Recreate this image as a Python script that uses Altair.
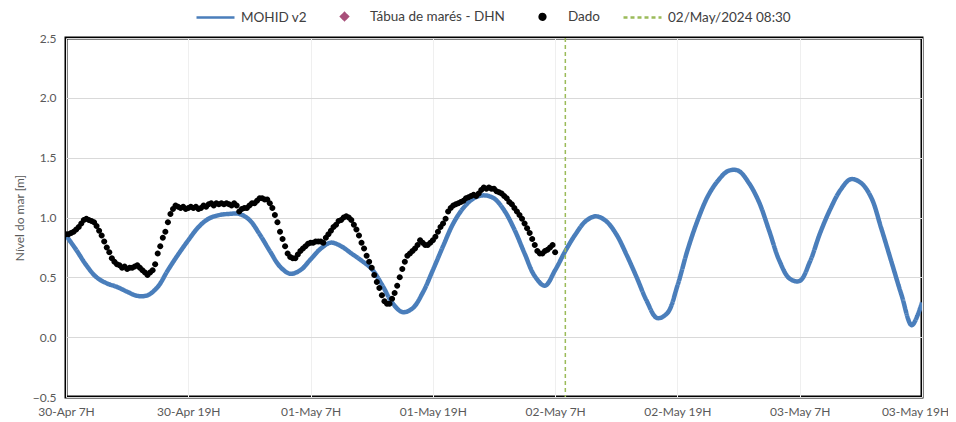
import altair as alt
import pandas as pd

# ---- axis ticks (hours since 30-Apr 07:00) ----
tick_hours = [0, 12, 24, 36, 48, 60, 72, 84]
tick_labels = ["30-Apr 7H", "30-Apr 19H", "01-May 7H", "01-May 19H",
               "02-May 7H", "02-May 19H", "03-May 7H", "03-May 19H"]
y_ticks = [-0.5, 0.0, 0.5, 1.0, 1.5, 2.0, 2.5]

# ---- series ----
series_names = ["MOHID v2", "Tábua de marés - DHN", "Dado", "02/May/2024 08:30"]
series_colors = ["#4A7EBB", "#A8507A", "#000000", "#9BBB59"]

# MOHID v2 model, hourly
mohid_hours = list(range(85))
mohid_level = [
    0.85, 0.73, 0.60, 0.50, 0.45, 0.42, 0.38, 0.345, 0.35, 0.42,
    0.56, 0.69, 0.81, 0.92, 0.99, 1.02, 1.03, 1.03, 0.98, 0.86,
    0.72, 0.59, 0.53, 0.56, 0.65, 0.74, 0.79, 0.76, 0.70, 0.64,
    0.57, 0.44, 0.29, 0.21, 0.24, 0.37, 0.56, 0.76, 0.95, 1.08,
    1.16, 1.185, 1.16, 1.06, 0.90, 0.70, 0.51, 0.43, 0.56, 0.72,
    0.86, 0.97, 1.01, 0.97, 0.86, 0.69, 0.50, 0.30, 0.16, 0.20,
    0.43, 0.73, 0.98, 1.18, 1.31, 1.39, 1.39, 1.29, 1.13, 0.89,
    0.64, 0.49, 0.47, 0.63, 0.87, 1.07, 1.23, 1.32, 1.29, 1.17,
    0.91, 0.63, 0.35, 0.10, 0.29,
]

# Observed data ("Dado"), every 15 minutes
dado_level = [
    0.86, 0.86, 0.87, 0.88,
    0.90, 0.92, 0.95, 0.98,
    0.99, 0.98, 0.97, 0.96,
    0.93, 0.89, 0.85, 0.80,
    0.75, 0.71, 0.66, 0.63,
    0.61, 0.60, 0.58, 0.59,
    0.57, 0.58, 0.58, 0.59,
    0.60, 0.58, 0.56, 0.54,
    0.52, 0.54, 0.56, 0.61,
    0.70, 0.76, 0.83, 0.88,
    0.96, 1.03, 1.07, 1.10,
    1.09, 1.08, 1.09, 1.07,
    1.08, 1.09, 1.08, 1.09,
    1.07, 1.08, 1.10, 1.09,
    1.11, 1.12, 1.10, 1.12,
    1.11, 1.12, 1.11, 1.12,
    1.11, 1.10, 1.12, 1.10,
    1.05, 1.07, 1.08, 1.08,
    1.10, 1.12, 1.12, 1.14,
    1.16, 1.16, 1.15, 1.15,
    1.12, 1.08, 1.02, 0.96,
    0.88, 0.82, 0.76, 0.70,
    0.67, 0.66, 0.66, 0.69,
    0.72, 0.74, 0.76, 0.78,
    0.79, 0.79, 0.80, 0.80,
    0.80, 0.79, 0.83, 0.86,
    0.89, 0.92, 0.94, 0.97,
    0.98, 1.00, 1.01, 1.00,
    0.98, 0.94, 0.90, 0.85,
    0.79, 0.74, 0.68, 0.63,
    0.58, 0.52, 0.46, 0.41,
    0.35, 0.30, 0.28, 0.28,
    0.32, 0.37, 0.43, 0.50,
    0.57, 0.63, 0.68, 0.70,
    0.72, 0.74, 0.77, 0.81,
    0.79, 0.77, 0.77, 0.79,
    0.81, 0.84, 0.88, 0.92,
    0.95, 0.99, 1.05, 1.08,
    1.10, 1.11, 1.12, 1.13,
    1.14, 1.16, 1.17, 1.18,
    1.19, 1.18, 1.20, 1.23,
    1.25, 1.24, 1.25, 1.24,
    1.24, 1.22, 1.21, 1.20,
    1.18, 1.16, 1.13, 1.11,
    1.08, 1.05, 1.02, 0.99,
    0.95, 0.91, 0.87, 0.82,
    0.77, 0.72, 0.70, 0.70,
    0.72, 0.73, 0.75, 0.77,
    0.71,
]
dado_hours = [i * 0.25 for i in range(len(dado_level))]

# forecast start marker
marker_hours = [49.0]

# ---- tables ----
mohid_df = pd.DataFrame({"h": mohid_hours, "v": mohid_level, "series": series_names[0]})
dado_df = pd.DataFrame({"h": dado_hours, "v": dado_level, "series": series_names[2]})
marker_df = pd.DataFrame({"h": marker_hours, "series": series_names[3]})

FONT = "Lato"
GRAY = "#595959"
label_array = "[" + ",".join("'%s'" % t for t in tick_labels) + "]"

x_enc = alt.X("h:Q",
              scale=alt.Scale(domain=[tick_hours[0], tick_hours[-1]], nice=False, zero=False),
              axis=alt.Axis(values=tick_hours, title=None,
                            labelExpr=label_array + "[round(datum.value/12)]",
                            labelFlush=False, labelOverlap=False,
                            labelOffset={"condition": {"test": "datum.value == %d" % tick_hours[-1],
                                                       "value": -7}, "value": 0},
                            gridColor="#EFEFEF", labelPadding=9, ticks=False, domain=False,
                            labelFont=FONT, labelFontSize=12, labelColor=GRAY))
y_enc = alt.Y("v:Q",
              scale=alt.Scale(domain=[y_ticks[0], y_ticks[-1]], nice=False, zero=False),
              axis=alt.Axis(values=y_ticks, format=".1f", title="Nível do mar [m]",
                            gridColor="#D9D9D9", labelPadding=10, titlePadding=6,
                            ticks=False, domain=False,
                            labelFont=FONT, labelFontSize=12, labelColor=GRAY,
                            titleFont=FONT, titleFontSize=12, titleColor=GRAY,
                            titleFontWeight=400))

legend = alt.Legend(title=None, orient="none", direction="horizontal",
                    legendX=129, legendY=-42,
                    labelFont=FONT, labelFontSize=13.5, labelColor="#404040",
                    symbolStrokeWidth=2.5, symbolSize=1444, columnPadding=17, labelOffset=5)

# custom symbol paths (unit coordinates, scaled by the symbol size)
LINE_SYM = "M-1,0H1"
DIAMOND_SYM = "M0,-0.18L0.18,0L0,0.18L-0.18,0Z"
DOT_SYM = "M0.15,0A0.15,0.15,0,1,1,-0.15,0A0.15,0.15,0,1,1,0.15,0Z"

color_enc = alt.Color("series:N", scale=alt.Scale(domain=series_names, range=series_colors),
                      legend=legend)
shape_enc = alt.Shape("series:N", scale=alt.Scale(domain=series_names,
                      range=[LINE_SYM, DIAMOND_SYM, DOT_SYM, LINE_SYM]), legend=legend)
dash_enc = alt.StrokeDash("series:N", scale=alt.Scale(domain=series_names,
                          range=[[1, 0], [1, 0], [1, 0], [4, 3]]), legend=legend)

line = alt.Chart(mohid_df).mark_line(strokeWidth=4.5, interpolate="catmull-rom", clip=True).encode(
    x=x_enc, y=y_enc, color=color_enc, strokeDash=dash_enc)

points = alt.Chart(dado_df).mark_point(filled=True, opacity=1, size=1600, strokeWidth=0,
                                       clip=True).encode(
    x=x_enc, y=y_enc, color=color_enc, shape=shape_enc)

rule = alt.Chart(marker_df).mark_rule(strokeWidth=1.5).encode(
    x=x_enc, color=color_enc, strokeDash=dash_enc)

chart = alt.layer(line, points, rule).properties(
    width=856, height=359, background="white",
    autosize=alt.AutoSizeParams(type="none"),
    padding={"left": 58, "top": 30, "right": 26, "bottom": 25},
).configure_view(
    stroke="#000000", strokeWidth=3
)

chart.save("out.html", embed_options={"renderer": "svg", "actions": False})
